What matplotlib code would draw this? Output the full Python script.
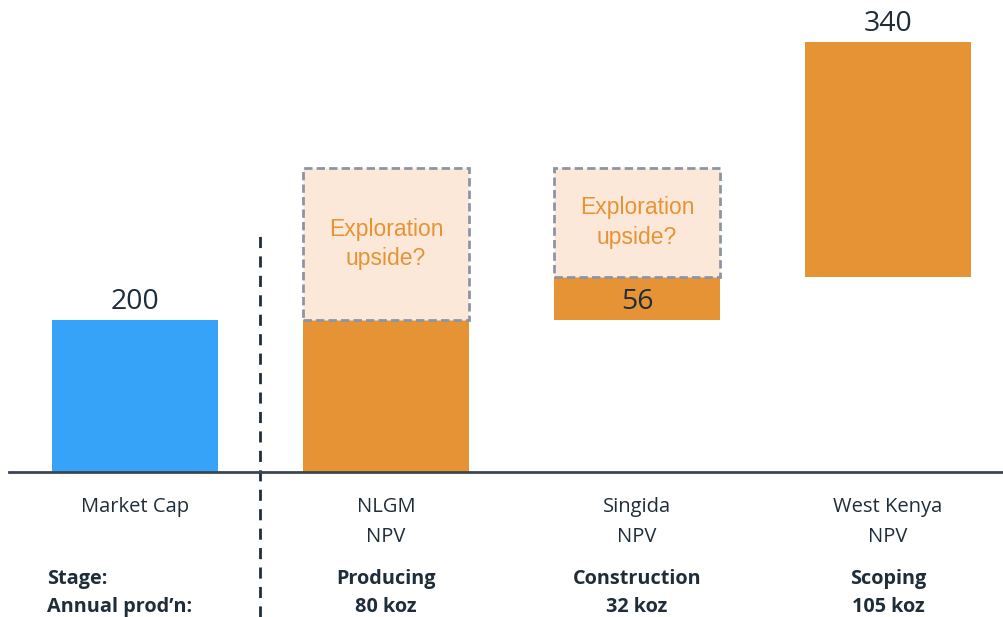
import matplotlib.pyplot as plt
from matplotlib.patches import Rectangle

# bar data (value units)
categories = ["Market Cap", "NLGM\nNPV", "Singida\nNPV", "West Kenya\nNPV"]
bar_bottoms = [0, 0, 200, 256]
bar_heights = [200, 200, 56, 310]
bar_labels = ["200", "", "56", "340"]
upside_bottoms = [None, 200, 256, None]
upside_tops = [None, 400, 400, None]
stages = ["", "Producing", "Construction", "Scoping"]
production = ["", "80 koz", "32 koz", "105 koz"]

BLUE = "#36a2f8"
ORANGE = "#e69336"
UPSIDE_FILL = "#fbe8d8"
UPSIDE_EDGE = "#8c95a5"
TEXT = "#1f2d3a"

plt.rcParams['font.family'] = ['Open Sans', 'DejaVu Sans']

fig = plt.figure(figsize=(10.04, 6.17), dpi=100)
ax = fig.add_axes([0, 0, 1, 1])
ax.set_xlim(-135 / 251, (1004 - 135) / 251)
ax.set_ylim(-145 / 0.76, 472 / 0.76)
ax.axis("off")

width = 0.66
colors = [BLUE, ORANGE, ORANGE, ORANGE]
xs = list(range(len(categories)))

bars = ax.bar(xs, bar_heights, width=width, bottom=bar_bottoms, color=colors, zorder=2)

# exploration upside boxes
for x, lo, hi in zip(xs, upside_bottoms, upside_tops):
    if lo is None:
        continue
    ax.add_patch(Rectangle((x - width / 2, lo), width, hi - lo, facecolor=UPSIDE_FILL,
                           edgecolor=UPSIDE_EDGE, linestyle=(0, (3, 1.5)), linewidth=2, zorder=3))
    ax.text(x, (lo + hi) / 2, "Exploration\nupside?", ha="center", va="center",
            color=ORANGE, fontsize=16.5, family="Liberation Sans", linespacing=1.36, zorder=4)

# value labels
for i, (b, h, lab) in enumerate(zip(bar_bottoms, bar_heights, bar_labels)):
    if not lab:
        continue
    if i == 2:
        ax.text(xs[i], b + h / 2 - 4, lab, ha="center", va="center", fontsize=20.5, color=TEXT, zorder=4)
    else:
        ax.annotate(lab, (xs[i], b + h), xytext=(0, 3), textcoords="offset points",
                    ha="center", va="bottom", fontsize=20.5, color=TEXT)

# baseline
ax.plot([-0.5, 3.5], [0, 0], color="#3c4650", linewidth=2, zorder=5)

# separator
ax.plot([0.5, 0.5], [ax.get_ylim()[0], 314], color=TEXT, linewidth=2,
        linestyle=(0, (4, 3)), zorder=1)

tr = ax.get_xaxis_transform()


def yfrac(px):
    return 1 - px / 617


for x, cat in zip(xs, categories):
    ax.text(x, yfrac(497), cat, ha="center", va="top", fontsize=14.5, color=TEXT,
            transform=tr, linespacing=1.7)

ax.text(-0.35, yfrac(579), "Stage:", ha="left", va="center", fontsize=14.3,
        fontweight="bold", color=TEXT, transform=tr)
ax.text(-0.35, yfrac(607), "Annual prod\u2019n:", ha="left", va="center", fontsize=14.3,
        fontweight="bold", color=TEXT, transform=tr)
for x, st, pr in zip(xs, stages, production):
    if not st:
        continue
    ax.text(x, yfrac(579), st, ha="center", va="center", fontsize=14.3,
            fontweight="bold", color=TEXT, transform=tr)
    ax.text(x, yfrac(607), pr, ha="center", va="center", fontsize=14.3,
            fontweight="bold", color=TEXT, transform=tr)

fig.savefig("out.png", dpi=100)
